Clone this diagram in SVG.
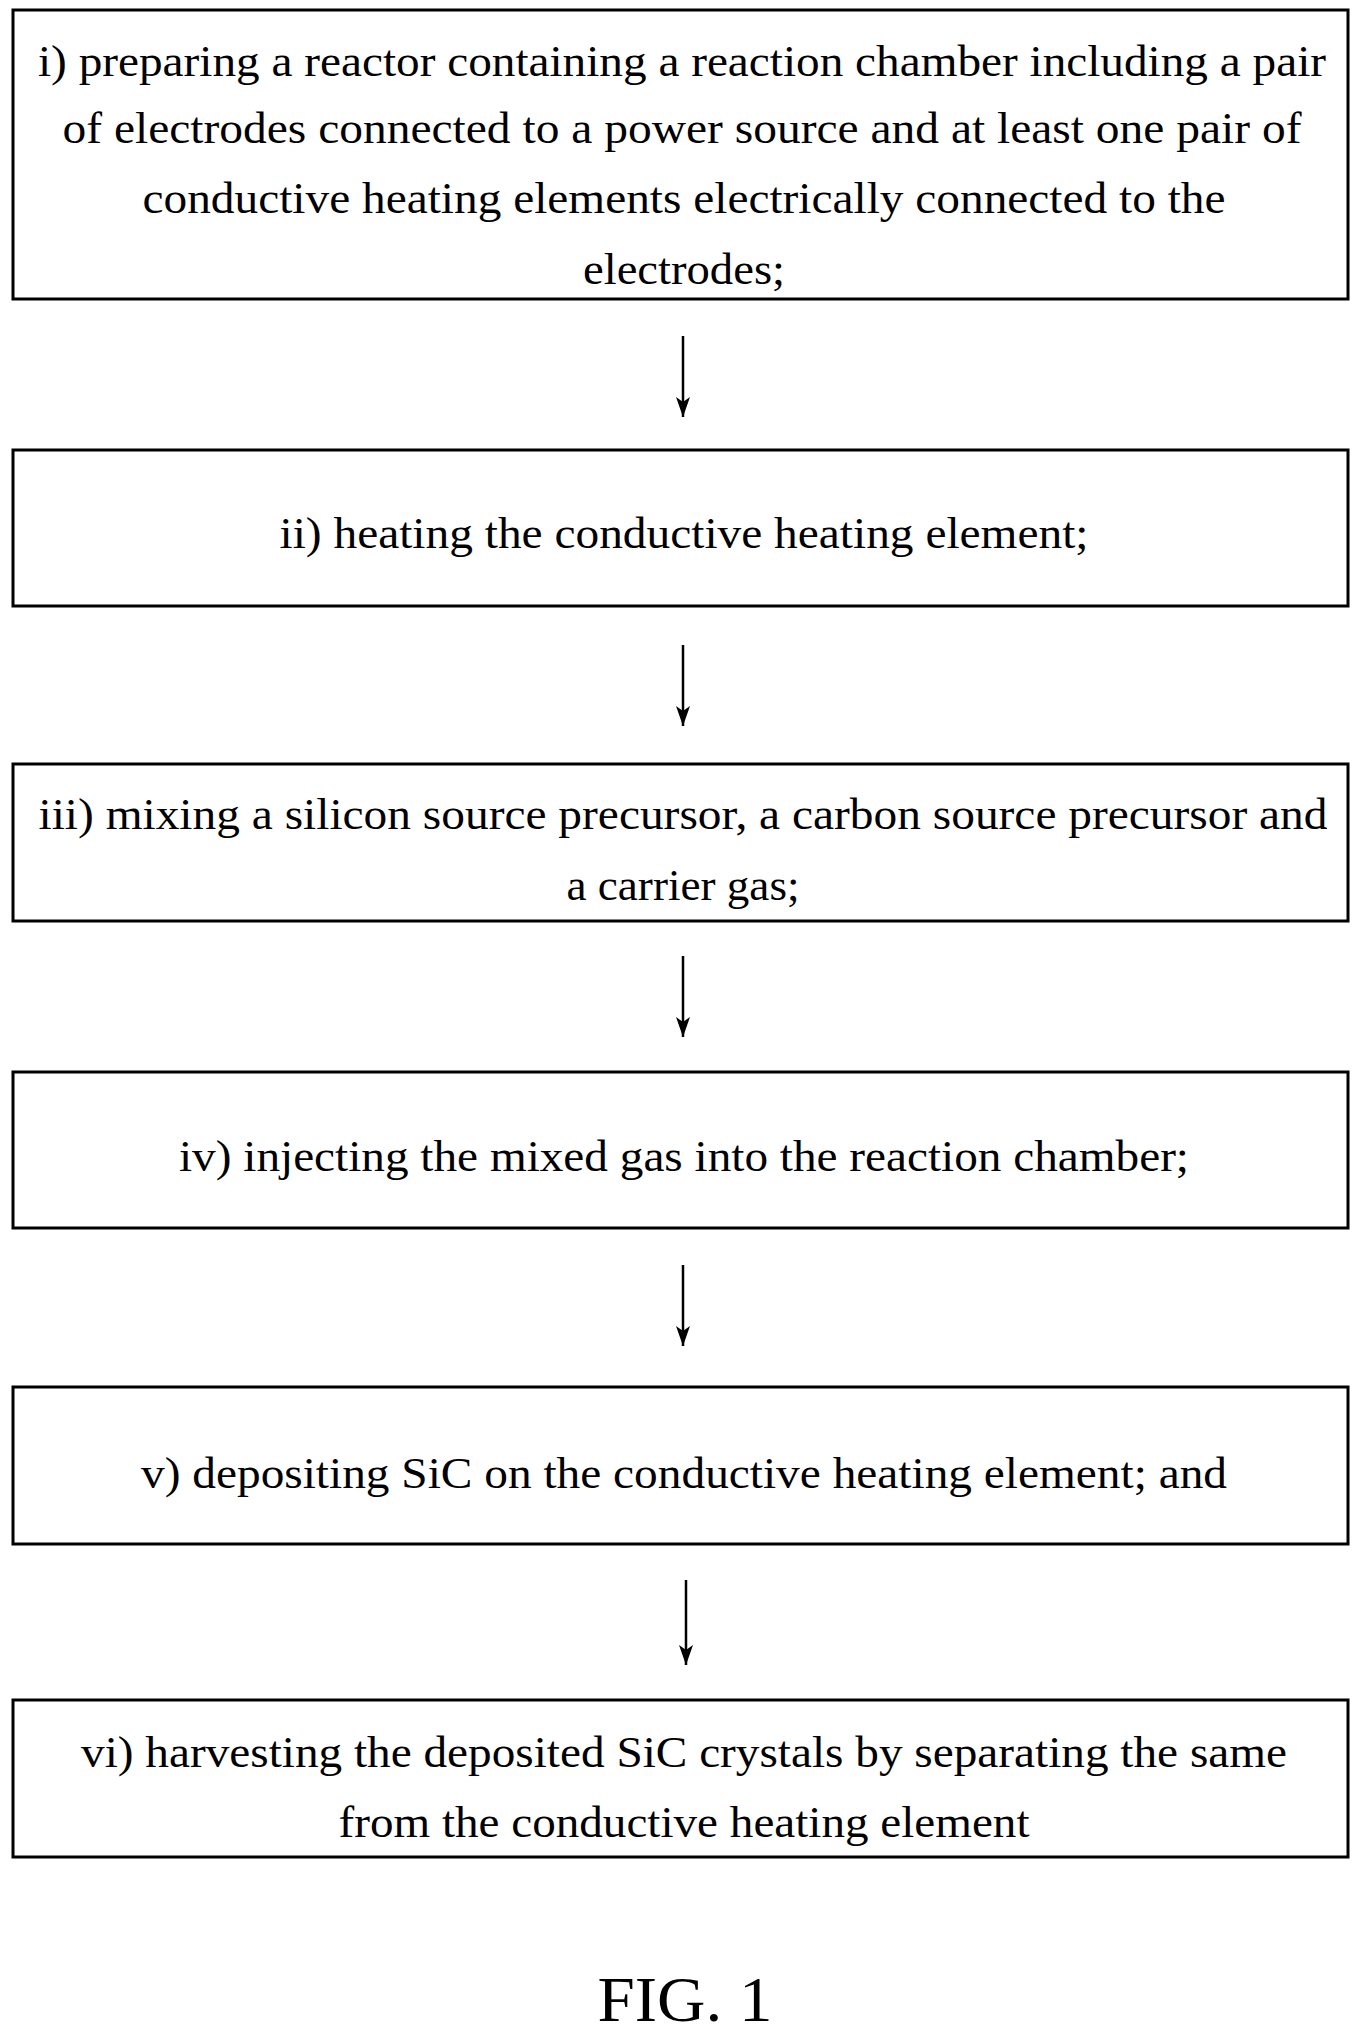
<svg xmlns="http://www.w3.org/2000/svg" width="1363" height="2033" viewBox="0 0 1363 2033">
<style>
.box{fill:#fff;stroke:#000;stroke-width:3}
.t{font-family:"Liberation Serif",serif;font-size:45px;text-anchor:middle;fill:#000}
.c{stroke:#000;stroke-width:2.5;fill:none}
</style>
<defs>
<marker id="a" markerWidth="14" markerHeight="20" refX="7" refY="20" orient="0" markerUnits="userSpaceOnUse"><path d="M0,0 L7,5 L14,0 L7,20 Z" fill="#000"/></marker></defs>
<rect width="1363" height="2033" fill="#fff"/>
<g id="n1"><rect class="box" x="13" y="10" width="1335" height="289"/>
<text class="t" x="682" y="76" textLength="1288" lengthAdjust="spacingAndGlyphs">i) preparing a reactor containing a reaction chamber including a pair</text>
<text class="t" x="682" y="143" textLength="1239" lengthAdjust="spacingAndGlyphs">of electrodes connected to a power source and at least one pair of</text>
<text class="t" x="684" y="213" textLength="1083" lengthAdjust="spacingAndGlyphs">conductive heating elements electrically connected to the</text>
<text class="t" x="684" y="284" textLength="202" lengthAdjust="spacingAndGlyphs">electrodes;</text></g>
<g id="n2"><rect class="box" x="13" y="450" width="1335" height="156"/>
<text class="t" x="684" y="548" textLength="809" lengthAdjust="spacingAndGlyphs">ii) heating the conductive heating element;</text></g>
<g id="n3"><rect class="box" x="13" y="764" width="1335" height="157"/>
<text class="t" x="683" y="829" textLength="1289" lengthAdjust="spacingAndGlyphs">iii) mixing a silicon source precursor, a carbon source precursor and</text>
<text class="t" x="683" y="900" textLength="233" lengthAdjust="spacingAndGlyphs">a carrier gas;</text></g>
<g id="n4"><rect class="box" x="13" y="1072" width="1335" height="156"/>
<text class="t" x="684" y="1171" textLength="1010" lengthAdjust="spacingAndGlyphs">iv) injecting the mixed gas into the reaction chamber;</text></g>
<g id="n5"><rect class="box" x="13" y="1387" width="1335" height="157"/>
<text class="t" x="684" y="1488" textLength="1086" lengthAdjust="spacingAndGlyphs">v) depositing SiC on the conductive heating element; and</text></g>
<g id="n6"><rect class="box" x="13" y="1700" width="1335" height="157"/>
<text class="t" x="684" y="1767" textLength="1206" lengthAdjust="spacingAndGlyphs">vi) harvesting the deposited SiC crystals by separating the same</text>
<text class="t" x="684" y="1837" textLength="691" lengthAdjust="spacingAndGlyphs">from the conductive heating element</text></g>
<g id="connectors">
<line class="c" x1="683" y1="336" x2="683" y2="417" marker-end="url(#a)"/>
<line class="c" x1="683" y1="645" x2="683" y2="726" marker-end="url(#a)"/>
<line class="c" x1="683" y1="956" x2="683" y2="1037" marker-end="url(#a)"/>
<line class="c" x1="683" y1="1265" x2="683" y2="1346" marker-end="url(#a)"/>
<line class="c" x1="686" y1="1580" x2="686" y2="1665" marker-end="url(#a)"/>
</g>
<text x="685" y="2021" style="font-family:'Liberation Serif',serif;font-size:64px;text-anchor:middle" textLength="175" lengthAdjust="spacingAndGlyphs">FIG. 1</text>
</svg>
